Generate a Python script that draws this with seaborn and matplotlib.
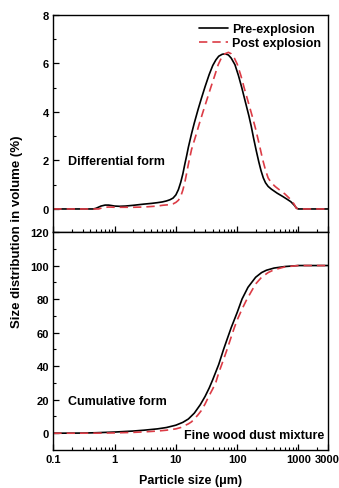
import numpy as np
import pandas as pd
import matplotlib
matplotlib.use("Agg")
import matplotlib.pyplot as plt
import matplotlib.ticker as mticker
import seaborn as sns

# ---------------- data ----------------
diff_pre_size = [0.1, 0.45, 0.5, 0.6, 0.7, 0.8, 0.9, 1.0, 1.2, 1.5, 2, 3, 4, 5, 6, 7, 8, 9,
                 10, 11, 12, 13, 14, 15, 16, 18, 20, 23, 26, 30, 35, 40, 45, 50, 57, 64, 72,
                 80, 92, 105, 119, 135, 155, 170, 186, 205, 225, 245, 267, 290, 320, 360,
                 450, 550, 635, 750, 850, 935, 1000, 3000]
diff_pre_vol = [0, 0, 0.03, 0.12, 0.16, 0.16, 0.14, 0.12, 0.11, 0.12, 0.15, 0.2, 0.23, 0.26,
                0.29, 0.33, 0.38, 0.45,
                0.58, 0.8, 1.1, 1.45, 1.85, 2.2, 2.55, 3.1, 3.55, 4.1, 4.55, 5.05, 5.55, 5.92,
                6.15, 6.3, 6.38, 6.4, 6.35,
                6.22, 5.95, 5.5, 5.0, 4.45, 3.85, 3.4, 2.9, 2.4, 1.95, 1.58, 1.28, 1.08, 0.93,
                0.82, 0.65, 0.52, 0.42, 0.3, 0.16, 0.03, 0, 0]

diff_post_size = [0.1, 0.55, 0.65, 0.8, 1.0, 2, 3, 5, 6, 8, 9, 10, 11, 12, 13, 14, 15, 16,
                  18, 21, 24, 27.5, 32, 37, 43, 49, 55, 63, 72, 80, 90, 100, 115, 130, 150,
                  175, 200, 230, 260, 290, 320, 360, 420, 500, 600, 725, 850, 920, 1000, 3000]
diff_post_vol = [0, 0, 0.06, 0.08, 0.07, 0.07, 0.08, 0.12, 0.15, 0.18, 0.21, 0.27, 0.36,
                 0.52, 0.78, 1.1, 1.48, 1.85,
                 2.45, 3.0, 3.5, 3.98, 4.5, 5.0, 5.5, 5.95, 6.22, 6.4, 6.46, 6.4, 6.22, 5.98,
                 5.5, 5.0, 4.45,
                 3.85, 3.3, 2.65, 2.05, 1.6, 1.28, 1.08, 0.92, 0.77, 0.62, 0.42, 0.2, 0.03, 0, 0]

cum_pre_size = [0.1, 0.3, 0.5, 1, 2, 3, 5, 7, 10, 13, 16, 20, 25, 30, 35, 40, 50, 60, 70,
                80, 100, 120, 150, 200, 250, 300, 400, 600, 1000, 3000]
cum_pre_vol = [0, 0.1, 0.3, 0.7, 1.3, 1.8, 2.6, 3.4, 4.8, 6.5, 8.5, 12, 17, 22, 27, 32, 41,
               50, 57, 63, 72, 80, 87, 93, 95.8, 97.2, 98.5, 99.4, 100, 100]

cum_post_size = [0.1, 0.5, 1, 2, 3, 5, 7, 10, 12, 14, 16, 18, 20, 23, 26, 30, 35, 40, 45,
                 50, 60, 70, 80, 90, 100, 120, 140, 170, 200, 250, 320, 400, 600, 1000, 3000]
cum_post_vol = [0, 0.05, 0.2, 0.5, 0.8, 1.3, 1.8, 2.6, 3.4, 4.6, 5.6, 6.8, 8.5, 11, 13.5,
                17.5, 22.5, 26.5, 30.5, 36, 44, 51, 57.5, 63, 67.5, 74, 79, 84.5, 89, 93, 95.8,
                97.5, 99.2, 100, 100]

series_labels = ["Pre-explosion", "Post explosion"]
x_ticks = [0.1, 1, 10, 100, 1000, 3000]
x_ticklabels = ["0.1", "1", "10", "100", "1000", "3000"]
top_yticks = [0, 2, 4, 6, 8]
bot_yticks = [0, 20, 40, 60, 80, 100, 120]

# ---------------- style ----------------
sns.set_theme(style="ticks")
plt.rcParams["font.family"] = ["Liberation Sans", "DejaVu Sans"]
plt.rcParams["font.weight"] = "bold"
plt.rcParams["axes.linewidth"] = 1.0
for k in ("text.color", "axes.labelcolor", "xtick.color", "ytick.color", "axes.edgecolor"):
    plt.rcParams[k] = "black"

W, H = 339, 489
fig = plt.figure(figsize=(W / 100, H / 100), dpi=100)

def frac(x0, y0, x1, y1):
    return [x0 / W, 1 - y1 / H, (x1 - x0) / W, (y1 - y0) / H]

ax1 = fig.add_axes(frac(53.3, 16, 327.7, 233))
ax2 = fig.add_axes(frac(53.3, 233, 327.7, 451))

black = "#000000"
red = "#dc3c46"

dpre = pd.DataFrame({"size": diff_pre_size, "vol": diff_pre_vol})
dpost = pd.DataFrame({"size": diff_post_size, "vol": diff_post_vol})
cpre = pd.DataFrame({"size": cum_pre_size, "vol": cum_pre_vol})
cpost = pd.DataFrame({"size": cum_post_size, "vol": cum_post_vol})

sns.lineplot(data=dpre, x="size", y="vol", ax=ax1, color=black, lw=1.2,
             label=series_labels[0], estimator=None, sort=False)
sns.lineplot(data=dpost, x="size", y="vol", ax=ax1, color=red, lw=1.2, ls=(0, (5, 3)),
             label=series_labels[1], estimator=None, sort=False)
sns.lineplot(data=cpre, x="size", y="vol", ax=ax2, color=black, lw=1.2,
             estimator=None, sort=False)
sns.lineplot(data=cpost, x="size", y="vol", ax=ax2, color=red, lw=1.2, ls=(0, (5, 3)),
             estimator=None, sort=False)

for ax in (ax1, ax2):
    ax.set_xscale("log")
    ax.set_xlim(0.1, 3000)
    ax.set_xlabel("")
    ax.set_ylabel("")
    ax.xaxis.set_major_locator(mticker.FixedLocator(x_ticks))
    ax.xaxis.set_minor_locator(mticker.LogLocator(base=10, subs=np.arange(2, 10), numticks=20))
    for s in ax.spines.values():
        s.set_visible(True)
        s.set_linewidth(1.0)
        s.set_color("black")
    ax.tick_params(axis="both", which="major", direction="in", length=4, width=0.9,
                   labelsize=8, pad=3, colors="black")
    ax.tick_params(axis="both", which="minor", direction="in", length=2.2, width=0.8,
                   colors="black")
    ax.tick_params(top=False, right=False, which="both")

ax1.set_ylim(-0.95, 8)
ax1.set_yticks(top_yticks)
ax1.yaxis.set_minor_locator(mticker.FixedLocator([1, 3, 5, 7]))
ax1.tick_params(axis="x", which="both", labelbottom=False)

ax2.set_ylim(-10, 120)
ax2.set_yticks(bot_yticks)
ax2.yaxis.set_minor_locator(mticker.FixedLocator([10, 30, 50, 70, 90, 110]))
ax2.set_xticklabels(x_ticklabels)
ax2.tick_params(axis="x", which="both", bottom=True)

for lab in ax1.get_yticklabels() + ax2.get_yticklabels() + ax2.get_xticklabels():
    lab.set_fontweight("bold")
    lab.set_color("black")

leg = ax1.legend(loc="upper right", bbox_to_anchor=(1.0, 0.99), frameon=False,
                 fontsize=9, handlelength=2.3, handletextpad=0.35, labelspacing=0.15,
                 borderaxespad=0.1)
for t in leg.get_texts():
    t.set_fontweight("bold")
    t.set_color("black")

ax1.text(0.054, 0.327, "Differential form", transform=ax1.transAxes, fontsize=9,
         fontweight="bold", ha="left", va="center", color="black")
ax2.text(0.054, 0.225, "Cumulative form", transform=ax2.transAxes, fontsize=9,
         fontweight="bold", ha="left", va="center", color="black")
ax2.text(0.987, 0.069, "Fine wood dust mixture", transform=ax2.transAxes, fontsize=9,
         fontweight="bold", ha="right", va="center", color="black")

fig.text(17 / W, 1 - 232 / H, "Size distribution in volume (%)", rotation=90,
         fontsize=9.5, fontweight="bold", ha="center", va="center", color="black")
fig.text(190.5 / W, 1 - 481 / H, "Particle size (\u03bcm)", fontsize=9,
         fontweight="bold", ha="center", va="center", color="black")

fig.savefig("out.png", dpi=100)
